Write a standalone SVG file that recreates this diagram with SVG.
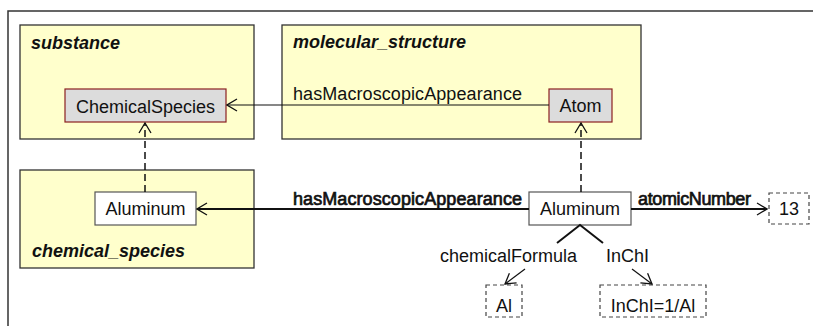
<svg xmlns="http://www.w3.org/2000/svg" width="813" height="326" viewBox="0 0 813 326">
<defs>
<style>
text{font-family:"Liberation Sans",Arial,sans-serif;fill:#111;}
.lbl{font-size:18px;}
.title{font-size:18px;font-weight:bold;font-style:italic;}
.bold{font-size:18px;stroke:#111;stroke-width:0.7;}
.pkg{fill:#ffffcc;stroke:#333;stroke-width:1.3;}
.cls{fill:#dcdcdc;stroke:#8b2020;stroke-width:1.2;}
.ind{fill:#fff;stroke:#555;stroke-width:1.2;}
.lit{fill:#fff;stroke:#444;stroke-width:1.2;stroke-dasharray:4,3;}
.ln{fill:none;stroke:#111;stroke-width:1.2;}
.lnb{fill:none;stroke:#111;stroke-width:2;}
.dash{fill:none;stroke:#111;stroke-width:1.5;stroke-dasharray:7,4;}
</style>
<marker id="open" viewBox="0 0 12 14" refX="11" refY="7" markerWidth="12" markerHeight="14" markerUnits="userSpaceOnUse" orient="auto">
<path d="M1,1 L11,7 L1,13" fill="none" stroke="#111" stroke-width="1.3"/>
</marker>
</defs>
<rect x="8" y="11" width="820" height="330" fill="none" stroke="#333" stroke-width="1.5"/>
<g id="substance">
<rect class="pkg" x="20" y="25" width="234" height="114"/>
<text class="title" x="31" y="49">substance</text>
</g>
<g id="molecular_structure">
<rect class="pkg" x="282" y="25" width="359" height="114"/>
<text class="title" x="293" y="48">molecular_structure</text>
</g>
<g id="chemical_species">
<rect class="pkg" x="20" y="170" width="234" height="98"/>
<text class="title" x="32" y="257">chemical_species</text>
</g>
<g id="ChemicalSpecies">
<rect class="cls" x="65" y="89" width="161" height="33"/>
<text class="lbl" x="145.5" y="113" text-anchor="middle">ChemicalSpecies</text>
</g>
<g id="Atom">
<rect class="cls" x="549" y="89" width="63" height="33"/>
<text class="lbl" x="580.5" y="112" text-anchor="middle">Atom</text>
</g>
<g id="Aluminum_cs">
<rect class="ind" x="95" y="192" width="101" height="33"/>
<text class="lbl" x="145.5" y="215" text-anchor="middle">Aluminum</text>
</g>
<g id="Aluminum_ms">
<rect class="ind" x="529" y="192" width="102" height="33"/>
<text class="lbl" x="580" y="215" text-anchor="middle">Aluminum</text>
</g>
<g id="lit13">
<rect class="lit" x="769" y="193" width="40" height="31"/>
<text class="lbl" x="789" y="215" text-anchor="middle">13</text>
</g>
<g id="litAl">
<rect class="lit" x="486" y="285" width="36" height="32"/>
<text class="lbl" x="504" y="312" text-anchor="middle">Al</text>
</g>
<g id="litInChI">
<rect class="lit" x="600" y="285" width="106" height="32"/>
<text class="lbl" x="653" y="312" text-anchor="middle">InChI=1/Al</text>
</g>
<g id="connectors">
<line class="ln" x1="549" y1="105" x2="227" y2="105" marker-end="url(#open)"/>
<text class="lbl" x="293" y="100" textLength="229">hasMacroscopicAppearance</text>
<line class="dash" x1="145" y1="192" x2="145" y2="123" marker-end="url(#open)"/>
<line class="dash" x1="581" y1="192" x2="581" y2="123" marker-end="url(#open)"/>
<line class="lnb" x1="529" y1="209" x2="197" y2="209" marker-end="url(#open)"/>
<text class="bold" x="293" y="205" textLength="229">hasMacroscopicAppearance</text>
<line class="lnb" x1="631" y1="209" x2="767" y2="209" marker-end="url(#open)"/>
<text class="bold" x="638" y="205" textLength="113">atomicNumber</text>
<polyline class="lnb" points="557,243 580,225 603,243"/>
<text class="lbl" x="440" y="262">chemicalFormula</text>
<line class="ln" x1="525" y1="269" x2="505" y2="284" marker-end="url(#open)"/>
<text class="lbl" x="606" y="262">InChI</text>
<line class="ln" x1="632" y1="269" x2="652" y2="284" marker-end="url(#open)"/>
</g>
</svg>
